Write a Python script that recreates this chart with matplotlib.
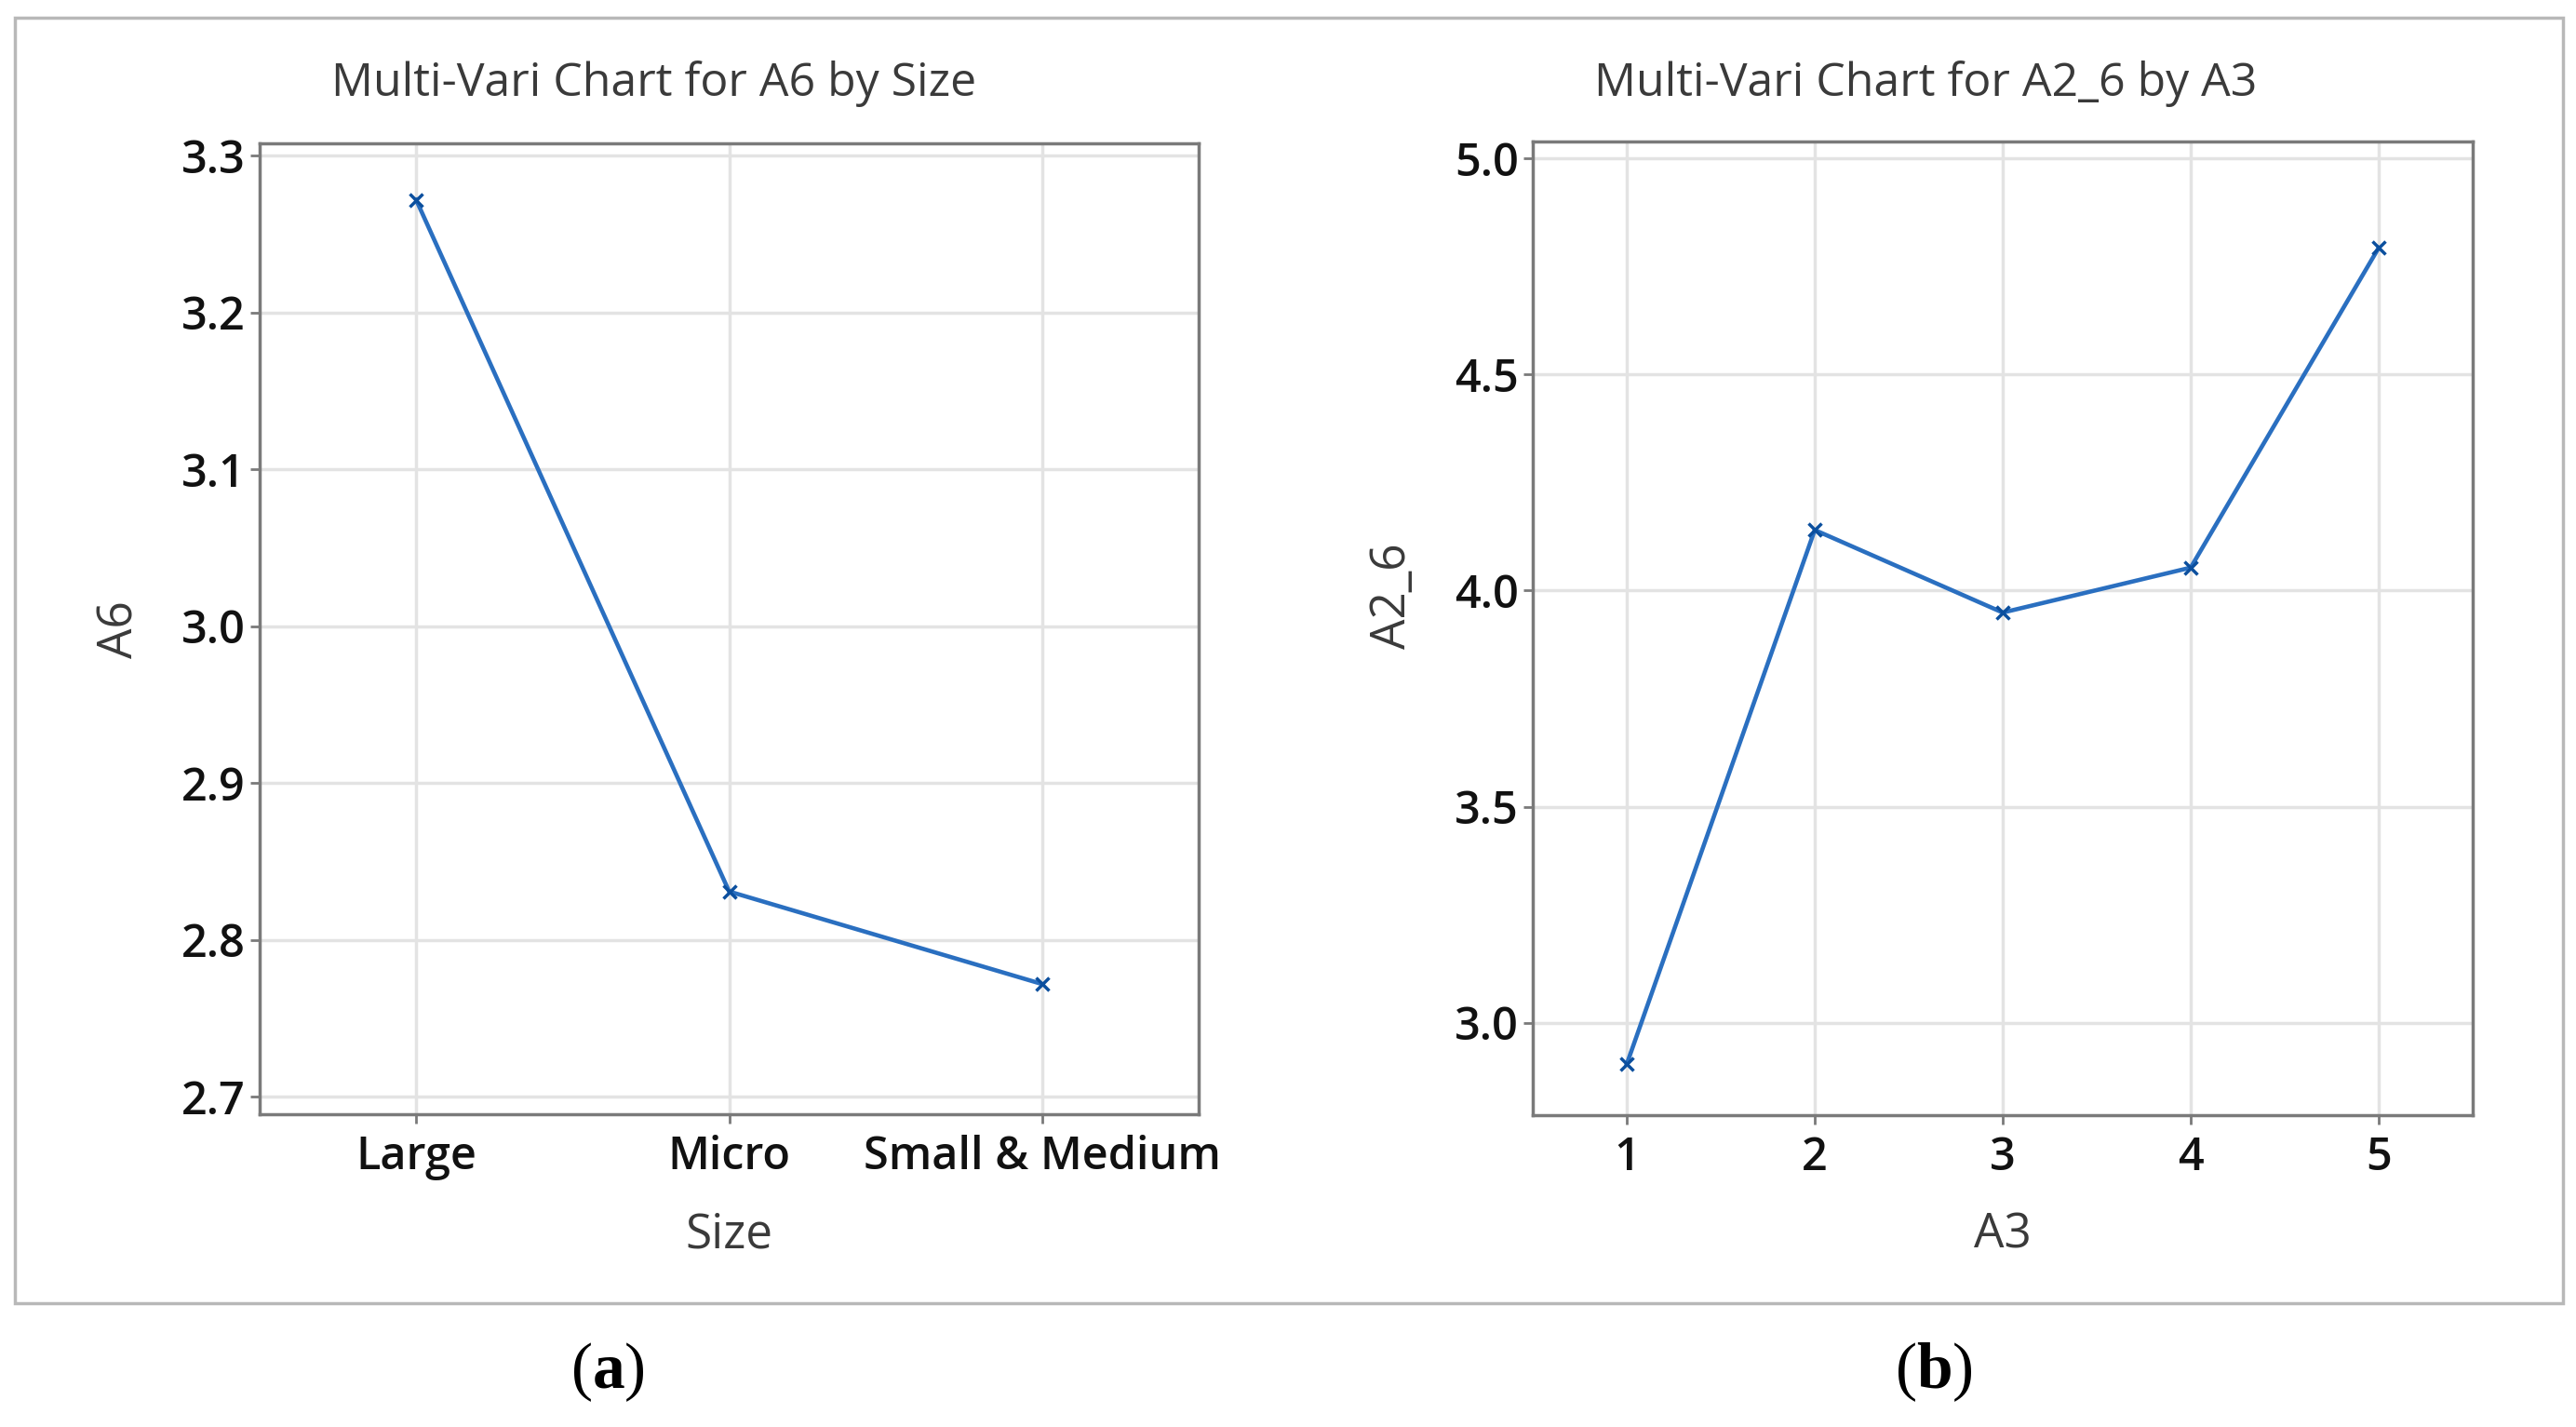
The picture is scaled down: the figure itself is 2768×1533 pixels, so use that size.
import matplotlib
matplotlib.use("Agg")
import matplotlib.pyplot as plt
from matplotlib.patches import Rectangle

# Data
size_cats = ["Large", "Micro", "Small & Medium"]
a6_means = [3.272, 2.831, 2.772]
a3_levels = [1, 2, 3, 4, 5]
a26_means = [2.904, 4.140, 3.949, 4.053, 4.793]
left_yticks = [2.7, 2.8, 2.9, 3.0, 3.1, 3.2, 3.3]
right_yticks = [3.0, 3.5, 4.0, 4.5, 5.0]

W, H = 2768, 1533
DPI = 100
plt.rcParams['font.family'] = ['Open Sans', 'DejaVu Sans']
plt.rcParams['mathtext.fontset'] = 'custom'
plt.rcParams['mathtext.bf'] = 'Liberation Serif:bold'
plt.rcParams['mathtext.rm'] = 'Liberation Serif'

fig = plt.figure(figsize=(W / DPI, H / DPI), dpi=DPI)
fig.patch.set_facecolor('white')

def px_axes(l, t, r, b):
    return fig.add_axes([l / W, 1 - b / H, (r - l) / W, (b - t) / H])

def ftext(x, y, s, **kw):
    return fig.text(x / W, 1 - y / H, s, **kw)

# outer frame
fig.patches.append(Rectangle((16 / W, 1 - 1400 / H), (2754 - 16) / W, (1400 - 19) / H,
                             transform=fig.transFigure, fill=False,
                             edgecolor='#b8b8b8', linewidth=2.5, zorder=0))

LINE_C = '#2a6fc0'
MARK_C = '#0b4f9e'
SPINE_C = '#7a7a7a'
GRID_C = '#e3e3e3'
TEXT_C = '#3a3a3a'

def style(ax):
    for s in ax.spines.values():
        s.set_color(SPINE_C)
        s.set_linewidth(2.5)
    ax.grid(True, color=GRID_C, linewidth=2.5)
    ax.set_axisbelow(True)
    ax.tick_params(axis='both', colors=SPINE_C, length=7, width=2, labelcolor='#111111',
                   labelsize=35)
    ax.tick_params(axis='y', pad=4)
    ax.tick_params(axis='x', pad=9)
    for lab in ax.get_xticklabels() + ax.get_yticklabels():
        lab.set_fontweight(600)

# left panel
ax1 = px_axes(279, 154, 1288, 1197)
x1 = list(range(len(size_cats)))
ax1.plot(x1, a6_means, color=LINE_C, linewidth=3.3, marker='x', markersize=10,
         markeredgewidth=2.5, markeredgecolor=MARK_C)
ax1.set_xlim(-0.5, 2.5)
ax1.set_ylim(2.689, 3.308)
ax1.set_xticks(x1)
ax1.set_xticklabels(size_cats)
ax1.set_yticks(left_yticks)
ax1.set_yticklabels([f"{v:.1f}" for v in left_yticks])
style(ax1)

# right panel
ax2 = px_axes(1647, 152, 2657, 1198)
ax2.plot(a3_levels, a26_means, color=LINE_C, linewidth=3.3, marker='x', markersize=10,
         markeredgewidth=2.5, markeredgecolor=MARK_C)
ax2.set_xlim(0.5, 5.5)
ax2.set_ylim(2.786, 5.039)
ax2.set_xticks(a3_levels)
ax2.set_yticks(right_yticks)
ax2.set_yticklabels([f"{v:.1f}" for v in right_yticks])
style(ax2)

# titles and axis labels
ftext(703, 90, "Multi-Vari Chart for A6 by Size", ha='center', va='center',
      fontsize=36, color=TEXT_C, fontweight=500)
ftext(2069, 90, "Multi-Vari Chart for A2_6 by A3", ha='center', va='center',
      fontsize=36, color=TEXT_C, fontweight=500)
ftext(783, 1327, "Size", ha='center', va='center', fontsize=37, color=TEXT_C)
ftext(2152, 1327, "A3", ha='center', va='center', fontsize=37, color=TEXT_C)
ftext(129, 676, "A6", ha='center', va='center', rotation=90, fontsize=37, color=TEXT_C)
ftext(1497, 640, "A2_6", ha='center', va='center', rotation=90, fontsize=37, color=TEXT_C)

# panel labels
ftext(653, 1474, r"($\mathbf{a}$)", ha='center', va='center',
      fontsize=50, family='Liberation Serif', color='black')
ftext(2078, 1474, r"($\mathbf{b}$)", ha='center', va='center',
      fontsize=50, family='Liberation Serif', color='black')

fig.savefig("out.png", dpi=DPI, facecolor='white')
